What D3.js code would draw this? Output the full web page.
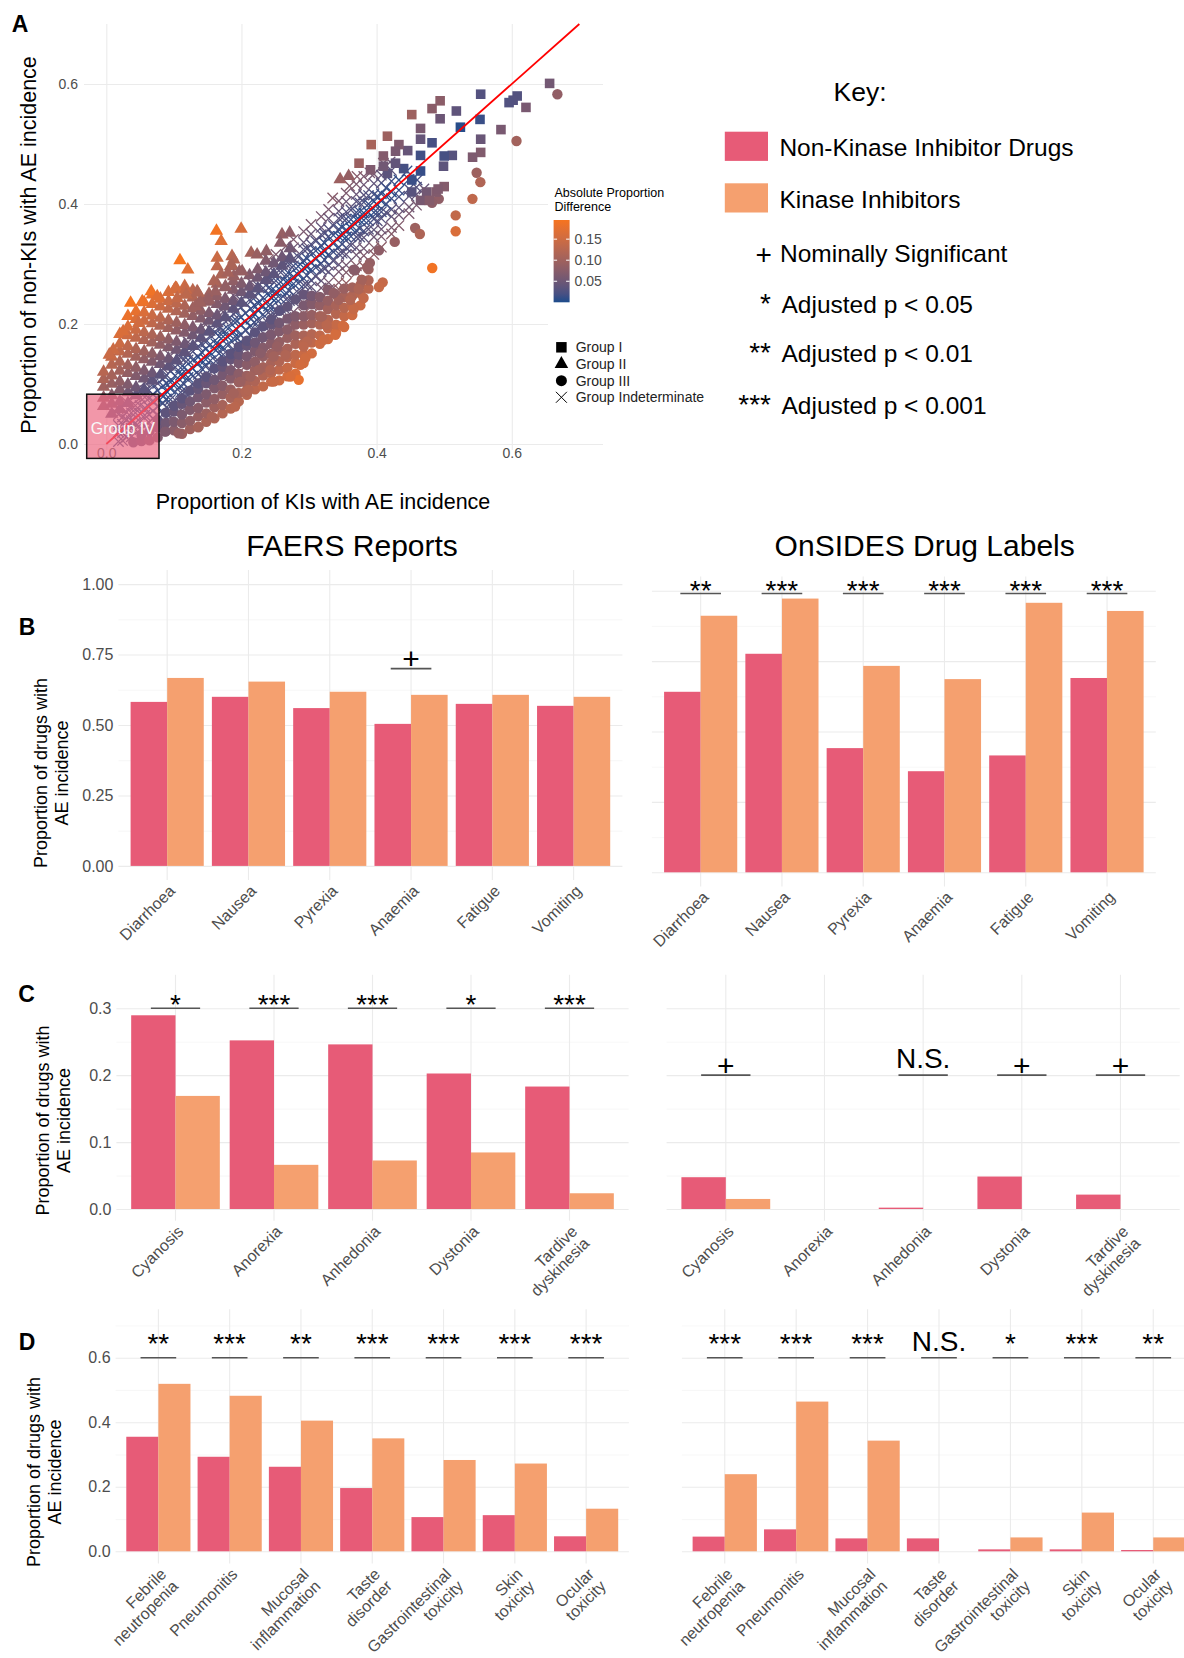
<!DOCTYPE html>
<html><head><meta charset="utf-8">
<script src="https://cdn.jsdelivr.net/npm/d3@7"></script>
<style>
body{margin:0;background:#fff}
svg{display:block;font-family:"Liberation Sans",Arial,Helvetica,sans-serif}
</style>
</head><body>
<svg id="fig" width="1184" height="1658"></svg>
<script>
// ---------- Panel A: AE incidence among KIs (x) vs non-KIs (y) ----------
// Group I (both high) – listed point by point
const groupI = [[0.656,0.601],[0.621,0.561],[0.608,0.58],[0.602,0.573],[0.596,0.569],[0.584,0.524],[0.554,0.583],[0.553,0.541],[0.554,0.508],[0.554,0.486],[0.542,0.478],[0.524,0.528],[0.518,0.555],[0.512,0.481],[0.5,0.48],[0.499,0.463],[0.494,0.572],[0.494,0.542],[0.482,0.559],[0.482,0.502],[0.465,0.526],[0.465,0.508],[0.465,0.481],[0.465,0.455],[0.452,0.549],[0.446,0.489],[0.44,0.459],[0.433,0.499],[0.428,0.488],[0.428,0.468],[0.416,0.513],[0.416,0.451],[0.41,0.48],[0.41,0.463],[0.392,0.499],[0.391,0.457],[0.374,0.468],[0.452,0.44],[0.452,0.42],[0.474,0.42],[0.465,0.406],[0.488,0.42],[0.5,0.429],[0.478,0.406],[0.491,0.425]];
// Group II (higher in non-KIs): scattered points and the dense mass, column by column
const groupIIPoints = [[0.163,0.355],[0.1995,0.3585],[0.17,0.338],[0.109,0.306],[0.1206,0.2906],[0.26,0.349],[0.2714,0.352],[0.2576,0.335],[0.346,0.441],[0.3586,0.4464],[0.2143,0.3185],[0.2232,0.3156],[0.2369,0.3212],[0.186,0.3128],[0.1886,0.3073],[0.164,0.31],[0.164,0.296],[0.1837,0.296],[0.186,0.2978],[0.201,0.2877],[0.1886,0.2794],[0.17,0.2822],[0.159,0.271],[0.1763,0.2627],[0.1615,0.2543],[0.1345,0.2543],[0.149,0.2405],[0.132,0.2293],[0.0665,0.2543],[0.0754,0.246],[0.0532,0.2377],[0.036,0.235],[0.1024,0.26],[0.1172,0.2572],[0.1008,0.2572],[0.1184,0.2488],[0.1358,0.2517],[0.0249,0.1875],[0.0103,0.157],[0.0044,0.1486],[0.048,0.2015],[0.18,0.285],[0.197,0.2877],[0.105,0.2433],[0.1517,0.2405],[0.139,0.235]];
const groupIICols = [[-0.004,[0.063,0.077,0.095,0.108,0.12]],[0.008,[0.05,0.067,0.081,0.1,0.114,0.132,0.145]],[0.02,[0.058,0.071,0.091,0.104,0.122,0.137,0.154,0.167,0.183]],[0.032,[0.068,0.086,0.099,0.118,0.131,0.15,0.163,0.181,0.195,0.213]],[0.044,[0.081,0.094,0.113,0.127,0.145,0.158,0.177,0.19,0.208,0.221]],[0.056,[0.091,0.109,0.122,0.141,0.154,0.173,0.186,0.205,0.219,0.236]],[0.068,[0.105,0.118,0.137,0.15,0.169,0.182,0.201,0.214,0.233,0.249]],[0.08,[0.115,0.133,0.146,0.165,0.178,0.197,0.21,0.229,0.242]],[0.092,[0.129,0.142,0.161,0.174,0.193,0.206,0.225,0.238,0.253]],[0.104,[0.139,0.157,0.17,0.189,0.202,0.221,0.234,0.259]],[0.116,[0.153,0.166,0.185,0.198,0.217,0.23,0.249,0.263]],[0.128,[0.163,0.181,0.194,0.213,0.226,0.244,0.256]],[0.14,[0.177,0.19,0.209,0.222,0.241]],[0.152,[0.187,0.205,0.218,0.237,0.25]],[0.164,[0.201,0.214,0.233,0.246,0.267]],[0.176,[0.211,0.229,0.242,0.261]],[0.188,[0.225,0.238,0.257,0.271]],[0.2,[0.235,0.253,0.267]],[0.212,[0.249,0.262,0.281]],[0.224,[0.259,0.277,0.291]],[0.236,[0.273,0.286,0.305]],[0.248,[0.283,0.301]],[0.26,[0.297,0.311]],[0.272,[0.309,0.326]]];
// Group III (higher in KIs)
const groupIIIPoints = [[0.6675,0.583],[0.607,0.505],[0.548,0.452],[0.5535,0.4364],[0.5418,0.4086],[0.517,0.381],[0.517,0.3546],[0.4823,0.2934],[0.492,0.4086],[0.482,0.402],[0.457,0.36],[0.464,0.35],[0.4268,0.3368],[0.4035,0.3228],[0.39,0.3018],[0.386,0.2945],[0.409,0.2694],[0.4035,0.2617],[0.378,0.274],[0.368,0.2894],[0.3807,0.2433],[0.3734,0.2583],[0.366,0.225],[0.361,0.2405],[0.35,0.197],[0.339,0.182],[0.3216,0.1737],[0.326,0.1987],[0.319,0.2126],[0.3438,0.2405],[0.3364,0.2517],[0.366,0.2906],[0.2946,0.143],[0.287,0.132],[0.2847,0.1069],[0.2724,0.1124],[0.2477,0.104],[0.297,0.1708],[0.292,0.1625],[0.2527,0.1625],[0.265,0.1486],[0.2477,0.1458],[0.228,0.1514],[0.2256,0.1236],[0.2428,0.1236],[0.2133,0.1124],[0.1985,0.104],[0.206,0.0874],[0.1886,0.0847],[0.2103,0.09],[0.1906,0.0623],[0.156,0.0456],[0.1364,0.0289],[0.107,0.0178],[0.087,0.0206]];
const groupIIICols = [[0.04,[0.003]],[0.052,[0.005,0.015]],[0.064,[0.006,0.021]],[0.076,[0.011,0.028,0.039]],[0.088,[0.021,0.035,0.052]],[0.1,[0.023,0.037,0.054,0.064]],[0.112,[0.017,0.035,0.049,0.067,0.076]],[0.124,[0.025,0.039,0.057,0.071,0.089]],[0.136,[0.028,0.046,0.06,0.078,0.092,0.101]],[0.148,[0.037,0.051,0.069,0.083,0.101,0.112]],[0.16,[0.043,0.061,0.075,0.093,0.107,0.126]],[0.172,[0.051,0.065,0.083,0.097,0.115,0.129,0.138]],[0.184,[0.059,0.077,0.091,0.109,0.123,0.141,0.15]],[0.196,[0.071,0.085,0.103,0.117,0.135,0.149,0.162]],[0.208,[0.082,0.1,0.114,0.132,0.146,0.164,0.172]],[0.22,[0.091,0.105,0.123,0.137,0.155,0.169,0.186]],[0.232,[0.096,0.114,0.128,0.146,0.16,0.178,0.196]],[0.244,[0.104,0.118,0.136,0.15,0.168,0.182,0.2,0.208]],[0.256,[0.106,0.124,0.138,0.156,0.17,0.188,0.202,0.222]],[0.268,[0.113,0.127,0.145,0.159,0.177,0.191,0.209,0.229]],[0.28,[0.117,0.135,0.149,0.167,0.181,0.199,0.213,0.241]],[0.292,[0.135,0.149,0.167,0.181,0.199,0.213,0.231,0.249]],[0.304,[0.151,0.169,0.183,0.201,0.215,0.233,0.247]],[0.316,[0.167,0.181,0.199,0.213,0.231,0.245]],[0.328,[0.175,0.193,0.207,0.225,0.239,0.257]],[0.34,[0.185,0.199,0.217,0.231,0.249]],[0.352,[0.195,0.213,0.227,0.245,0.259]],[0.364,[0.215,0.229,0.247,0.261]],[0.376,[0.231,0.251,0.265]],[0.388,[0.259,0.273,0.291]]];
// Group Indeterminate (close to the diagonal)
const groupIndetPoints = [[0.39,0.452],[0.42,0.47],[0.371,0.446],[0.41,0.468],[0.46,0.44],[0.47,0.425],[0.36,0.43],[0.335,0.41],[0.445,0.455]];
const groupIndetCols = [[0.018,[0.004,0.02,0.031,0.049,0.058]],[0.03,[0.011,0.027,0.041,0.053,0.07]],[0.043,[0.007,0.024,0.035,0.052,0.064,0.081]],[0.057,[0.02,0.03,0.048,0.06,0.078,0.089,0.103]],[0.069,[0.026,0.043,0.055,0.072,0.083,0.1,0.11]],[0.084,[0.039,0.05,0.068,0.079,0.097,0.108,0.126]],[0.095,[0.045,0.063,0.074,0.092,0.103,0.121,0.133,0.147]],[0.11,[0.057,0.068,0.086,0.097,0.115,0.127,0.144,0.155]],[0.121,[0.064,0.082,0.093,0.111,0.122,0.14,0.151,0.17]],[0.136,[0.076,0.087,0.105,0.116,0.134,0.145,0.163,0.174,0.192]],[0.147,[0.082,0.1,0.111,0.129,0.141,0.158,0.17,0.188,0.199]],[0.162,[0.098,0.109,0.127,0.138,0.156,0.167,0.185,0.196,0.214]],[0.173,[0.102,0.12,0.131,0.149,0.161,0.179,0.19,0.208,0.22,0.235]],[0.188,[0.117,0.128,0.146,0.158,0.176,0.187,0.205,0.217,0.231,0.248]],[0.199,[0.122,0.14,0.152,0.17,0.181,0.199,0.211,0.228,0.24,0.258]],[0.214,[0.138,0.149,0.167,0.179,0.197,0.208,0.226,0.238,0.255,0.27]],[0.225,[0.145,0.163,0.175,0.193,0.204,0.222,0.234,0.251,0.263,0.282]],[0.24,[0.16,0.171,0.189,0.201,0.219,0.23,0.248,0.26,0.277,0.289,0.307]],[0.251,[0.165,0.183,0.195,0.213,0.224,0.242,0.254,0.272,0.284,0.301,0.316]],[0.266,[0.182,0.193,0.211,0.223,0.241,0.252,0.27,0.282,0.3,0.312,0.33]],[0.277,[0.19,0.208,0.22,0.238,0.249,0.267,0.279,0.297,0.309,0.327,0.341]],[0.292,[0.206,0.217,0.235,0.247,0.265,0.276,0.294,0.306,0.324,0.336,0.354]],[0.303,[0.214,0.232,0.244,0.262,0.273,0.291,0.303,0.321,0.333,0.35,0.366]],[0.318,[0.231,0.242,0.26,0.272,0.29,0.301,0.319,0.331,0.349,0.361,0.379]],[0.329,[0.239,0.257,0.269,0.287,0.298,0.316,0.328,0.346,0.358,0.376,0.391]],[0.344,[0.258,0.269,0.287,0.299,0.317,0.328,0.346,0.358,0.376,0.388,0.405]],[0.355,[0.268,0.286,0.298,0.316,0.327,0.345,0.357,0.375,0.387,0.404,0.418]],[0.37,[0.286,0.297,0.315,0.327,0.345,0.356,0.374,0.386,0.404,0.416,0.433]],[0.381,[0.296,0.314,0.326,0.344,0.355,0.373,0.385,0.403,0.415,0.432,0.446]],[0.396,[0.316,0.327,0.345,0.357,0.375,0.386,0.404,0.416,0.434,0.45]],[0.407,[0.328,0.346,0.358,0.376,0.387,0.405,0.417,0.435,0.448]],[0.422,[0.35,0.361,0.379,0.391,0.409,0.42,0.438,0.456]],[0.433,[0.364,0.382,0.394,0.412,0.423,0.44]],[0.448,[0.384,0.395,0.413,0.425,0.441]],[0.459,[0.398,0.416,0.428]]];
// the tight core of indeterminate AEs hugging the diagonal
const groupIndetCore = [[0.024,[0.006,0.019,0.033,0.045]],[0.037,[0.012,0.026,0.039,0.052,0.064]],[0.05,[0.024,0.037,0.051,0.064,0.077]],[0.063,[0.036,0.049,0.062,0.076,0.089]],[0.076,[0.049,0.062,0.075,0.089,0.101]],[0.089,[0.061,0.075,0.088,0.101,0.115]],[0.102,[0.073,0.087,0.1,0.114,0.128]],[0.115,[0.086,0.1,0.113,0.127,0.141]],[0.128,[0.099,0.113,0.126,0.14,0.154]],[0.141,[0.112,0.126,0.139,0.153,0.167]],[0.154,[0.124,0.139,0.152,0.166,0.181]],[0.167,[0.137,0.151,0.165,0.179,0.194]],[0.18,[0.149,0.164,0.178,0.192,0.207]],[0.193,[0.162,0.177,0.191,0.205,0.221]],[0.206,[0.174,0.19,0.204,0.218,0.234]],[0.219,[0.187,0.203,0.217,0.231,0.247]],[0.232,[0.2,0.216,0.23,0.244,0.26]],[0.245,[0.213,0.229,0.243,0.257,0.273]],[0.258,[0.226,0.242,0.256,0.27,0.286]],[0.271,[0.239,0.255,0.269,0.283,0.299]],[0.284,[0.252,0.268,0.282,0.296,0.312]],[0.297,[0.265,0.281,0.295,0.309,0.325]],[0.31,[0.279,0.294,0.308,0.322,0.338]],[0.323,[0.292,0.307,0.321,0.335,0.351]],[0.336,[0.305,0.32,0.334,0.348,0.364]],[0.349,[0.318,0.333,0.347,0.361,0.377]],[0.362,[0.331,0.346,0.36,0.374,0.39]],[0.375,[0.345,0.359,0.373,0.387,0.402]],[0.388,[0.358,0.372,0.386,0.4,0.414]],[0.401,[0.372,0.386,0.399,0.413]],[0.414,[0.386,0.4,0.413,0.427]]];
const scatterTicks = [0, 0.2, 0.4, 0.6];
const diffTicks = [0.05, 0.10, 0.15];
const shapeLegend = ["Group I", "Group II", "Group III", "Group Indeterminate"];

// ---------- Panel B: most common AEs ----------
const catsB = ["Diarrhoea","Nausea","Pyrexia","Anaemia","Fatigue","Vomiting"];
const faersB_nonKI = [0.582,0.600,0.560,0.504,0.575,0.568];
const faersB_KI    = [0.667,0.654,0.618,0.607,0.607,0.600];
const faersB_sig   = ["","","","+","",""];
const onsidesB_nonKI = [0.641,0.776,0.441,0.359,0.415,0.690];
const onsidesB_KI    = [0.911,0.972,0.733,0.686,0.957,0.928];
const onsidesB_sig   = ["**","***","***","***","***","***"];
const ticksB = [0, 0.25, 0.5, 0.75, 1.0];

// ---------- Panel C: AEs more frequent in non-KIs ----------
const catsC = ["Cyanosis","Anorexia","Anhedonia","Dystonia","Tardive\ndyskinesia"];
const faersC_nonKI = [0.2895,0.252,0.246,0.2025,0.183];
const faersC_KI    = [0.169,0.066,0.0725,0.0845,0.0235];
const faersC_sig   = ["*","***","***","*","***"];
const onsidesC_nonKI = [0.0475,0,0.002,0.0485,0.0215];
const onsidesC_KI    = [0.015,0,0,0,0];
const onsidesC_sig   = ["+","","N.S.","+","+"];
const ticksC = [0, 0.1, 0.2, 0.3];

// ---------- Panel D: AEs more frequent in KIs ----------
const catsD = ["Febrile\nneutropenia","Pneumonitis","Mucosal\ninflammation","Taste\ndisorder","Gastrointestinal\ntoxicity","Skin\ntoxicity","Ocular\ntoxicity"];
const faersD_nonKI = [0.355,0.293,0.262,0.196,0.106,0.112,0.0465];
const faersD_KI    = [0.519,0.482,0.405,0.350,0.283,0.272,0.132];
const faersD_sig   = ["**","***","**","***","***","***","***"];
const onsidesD_nonKI = [0.0455,0.068,0.040,0.040,0.006,0.006,0.004];
const onsidesD_KI    = [0.239,0.464,0.343,0,0.043,0.120,0.043];
const onsidesD_sig   = ["***","***","***","N.S.","*","***","**"];
const ticksD = [0, 0.2, 0.4, 0.6];

// ---------- Key ----------
const keyDrugs = ["Non-Kinase Inhibitor Drugs","Kinase Inhibitors"];
const keySymbols = ["+","*","**","***"];
const keyTexts = ["Nominally Significant","Adjusted p < 0.05","Adjusted p < 0.01","Adjusted p < 0.001"];

// ================= drawing =================
const FONT = '"Liberation Sans", Arial, Helvetica, sans-serif';
const PINK = "#e75b77", ORANGE = "#f5a06f";
const GRID = "#ebebeb", GRID_MINOR = "#f4f4f4", TICK_TXT = "#4d4d4d";
const svg = d3.select("#fig");
svg.append("rect").attr("width",1184).attr("height",1658).attr("fill","#fff");

const flat = cols => cols.flatMap(([x, ys]) => ys.map(y => [x, y]));

// ----- Panel A -----
const A = {left:84, right:603, top:24, bottom:450};
const xA = d3.scaleLinear().domain([-0.033, 0.735]).range([A.left, A.right]);
const yA = d3.scaleLinear().domain([-0.01, 0.70]).range([A.bottom, A.top]);
const diffColor = d3.scaleLinear().domain([0, 0.195]).range(["#1c4c8c", "#f6741f"])
  .interpolate(d3.interpolateLab).clamp(true);
const col = d => diffColor(Math.abs(d[1] - d[0]));

const gA = svg.append("g");
gA.append("g").attr("transform", `translate(0,${A.bottom})`)
  .call(d3.axisBottom(xA).tickValues(scatterTicks).tickSize(-(A.bottom - A.top)).tickPadding(-1.5).tickFormat(d3.format(".1f")))
  .call(a => { a.select(".domain").remove();
    a.selectAll("line").attr("stroke", GRID).attr("stroke-width", 1.1);
    a.selectAll("text").attr("fill", TICK_TXT).attr("font-size", 14).attr("font-family", FONT); });
gA.append("g").attr("transform", `translate(${A.left},0)`)
  .call(d3.axisLeft(yA).tickValues(scatterTicks).tickSize(-(A.right - A.left)).tickPadding(6).tickFormat(d3.format(".1f")))
  .call(a => { a.select(".domain").remove();
    a.selectAll("line").attr("stroke", GRID).attr("stroke-width", 1.1);
    a.selectAll("text").attr("fill", TICK_TXT).attr("font-size", 14).attr("font-family", FONT); });

const pts = gA.append("g");
const crossPath = d3.symbol(d3.symbolTimes, 72)();
pts.selectAll("path.ind").data(flat(groupIndetCols).concat(flat(groupIndetCore), groupIndetPoints)).join("path")
  .attr("class","ind").attr("d", crossPath)
  .attr("transform", d => `translate(${xA(d[0])},${yA(d[1])})`)
  .attr("fill","none").attr("stroke", col).attr("stroke-width", 1.3);
const triPath = d3.symbol(d3.symbolTriangle, 78)();
pts.selectAll("path.g2").data(flat(groupIICols).concat(groupIIPoints)).join("path")
  .attr("class","g2").attr("d", triPath)
  .attr("transform", d => `translate(${xA(d[0])},${yA(d[1])})`).attr("fill", col);
pts.selectAll("circle.g3").data(flat(groupIIICols).concat(groupIIIPoints)).join("circle")
  .attr("class","g3").attr("cx", d => xA(d[0])).attr("cy", d => yA(d[1])).attr("r", 5.2).attr("fill", col);
const sqPath = d3.symbol(d3.symbolSquare, 92)();
pts.selectAll("path.g1").data(groupI).join("path")
  .attr("class","g1").attr("d", sqPath)
  .attr("transform", d => `translate(${xA(d[0])},${yA(d[1])})`).attr("fill", col);

// identity line
gA.append("line").attr("x1", xA(0)).attr("y1", yA(0)).attr("x2", xA(0.70)).attr("y2", yA(0.70))
  .attr("stroke", "#ff0000").attr("stroke-width", 1.8);

// Group IV region
gA.append("rect").attr("x", xA(-0.029)).attr("y", yA(0.083))
  .attr("width", xA(0.078) - xA(-0.029)).attr("height", yA(-0.024) - yA(0.083))
  .attr("fill", "#ec6b85").attr("fill-opacity", 0.7).attr("stroke", "#111").attr("stroke-width", 1.5);
gA.append("text").attr("x", (xA(-0.029) + xA(0.078)) / 2).attr("y", 434).attr("text-anchor","middle")
  .attr("font-size", 16).attr("fill", "#f8f8f8").text("Group IV");

// axis titles
svg.append("text").attr("x", 323).attr("y", 509).attr("text-anchor","middle").attr("font-size", 21.5).text("Proportion of KIs with AE incidence");
svg.append("text").attr("transform","translate(35.5,245) rotate(-90)").attr("text-anchor","middle").attr("font-size", 21.5).text("Proportion of non-KIs with AE incidence");
svg.append("text").attr("x", 20).attr("y", 32).attr("text-anchor","middle").attr("font-size", 23).attr("font-weight","bold").text("A");

// legends of panel A
svg.append("rect").attr("x", 548).attr("y", 172).attr("width", 150).attr("height", 236).attr("fill", "#fff");
svg.append("text").attr("x", 554.4).attr("y", 196.7).attr("font-size", 12.5).text("Absolute Proportion");
svg.append("text").attr("x", 554.4).attr("y", 210.7).attr("font-size", 12.5).text("Difference");
const cb = {x:553.6, w:16, top:220, bottom:302.3};
const cbScale = d3.scaleLinear().domain([0, 0.1955]).range([cb.bottom, cb.top]);
const grad = svg.append("defs").append("linearGradient").attr("id","cbGrad").attr("x1",0).attr("x2",0).attr("y1",1).attr("y2",0);
d3.range(0, 1.0001, 0.1).forEach(t => grad.append("stop").attr("offset", t).attr("stop-color", diffColor(t * 0.1955)));
svg.append("rect").attr("x", cb.x).attr("y", cb.top).attr("width", cb.w).attr("height", cb.bottom - cb.top).attr("fill","url(#cbGrad)");
svg.append("g").attr("transform", `translate(${cb.x + cb.w},0)`)
  .call(d3.axisRight(cbScale).tickValues(diffTicks).tickSize(0).tickPadding(5).tickFormat(d3.format(".2f")))
  .call(a => { a.select(".domain").remove();
    a.selectAll("text").attr("fill", TICK_TXT).attr("font-size", 14).attr("font-family", FONT); });
diffTicks.forEach(v => {
  [[cb.x, cb.x + 3.5], [cb.x + cb.w - 3.5, cb.x + cb.w]].forEach(([a, b]) =>
    svg.append("line").attr("x1", a).attr("x2", b).attr("y1", cbScale(v)).attr("y2", cbScale(v)).attr("stroke","#fff").attr("stroke-width",1));
});
const legSyms = [d3.symbol(d3.symbolSquare, 110)(), d3.symbol(d3.symbolTriangle, 80)(), d3.symbol(d3.symbolCircle, 95)(), d3.symbol(d3.symbolTimes, 80)()];
const legY = d3.scalePoint().domain(shapeLegend).range([347.3, 397.3]);
shapeLegend.forEach((s, i) => {
  const p = svg.append("path").attr("d", legSyms[i]).attr("transform", `translate(561.4,${legY(s)})`);
  if (i === 3) p.attr("fill","none").attr("stroke","#000").attr("stroke-width",1); else p.attr("fill","#000");
  svg.append("text").attr("x", 575.7).attr("y", legY(s) + 5).attr("font-size", 14).attr("fill","#222").text(s);
});

// ----- Key -----
svg.append("text").attr("x", 860).attr("y", 101).attr("text-anchor","middle").attr("font-size", 26.5).text("Key:");
[[PINK, 131.7, 156], [ORANGE, 183.3, 207.7]].forEach(([c, y, base], i) => {
  svg.append("rect").attr("x", 724.8).attr("y", y).attr("width", 43.2).attr("height", 29.2).attr("fill", c);
  svg.append("text").attr("x", 779.4).attr("y", base).attr("font-size", 24.5).text(keyDrugs[i]);
});
const keyBase = [262.3, 313.3, 361.7, 414.3];
keySymbols.forEach((s, i) => {
  if (s === "+") svg.append("text").attr("x", 763.8).attr("y", 264).attr("text-anchor","middle").attr("font-size", 28).text(s);
  else svg.append("text").attr("x", 771).attr("y", keyBase[i]).attr("text-anchor","end").attr("font-size", 28).text(s);
  svg.append("text").attr("x", i === 0 ? 780 : 781.5).attr("y", keyBase[i]).attr("font-size", 24.5).text(keyTexts[i]);
});

// ----- bar panels -----
function barPanel(o) {
  const g = svg.append("g");
  const x = d3.scaleBand().domain(o.cats).range([o.left, o.right]).paddingInner(0.1).paddingOuter(0.15);
  const sub = d3.scaleBand().domain(["nonKI","KI"]).range([0, x.bandwidth()]);
  const y = d3.scaleLinear().domain(o.yDomain).range([o.bottom, o.top]);
  const W = o.right - o.left;
  g.append("g").attr("transform", `translate(${o.left},0)`)
    .call(d3.axisLeft(y).tickValues(o.minor).tickSize(-W).tickFormat(""))
    .call(a => { a.select(".domain").remove(); a.selectAll("line").attr("stroke", GRID_MINOR).attr("stroke-width", 0.7); });
  g.append("g").attr("transform", `translate(${o.left},0)`)
    .call(d3.axisLeft(y).tickValues(o.major).tickSize(-W).tickPadding(5).tickFormat(o.showY ? d3.format(o.fmt) : ""))
    .call(a => { a.select(".domain").remove();
      a.selectAll("line").attr("stroke", GRID).attr("stroke-width", 1.1);
      a.selectAll("text").attr("fill", TICK_TXT).attr("font-size", 16).attr("font-family", FONT); });
  g.append("g").attr("transform", `translate(0,${o.bottom})`)
    .call(d3.axisBottom(x).tickSize(-(o.bottom - o.top)).tickFormat(""))
    .call(a => { a.select(".domain").remove(); a.selectAll("line").attr("stroke", GRID).attr("stroke-width", 1.1); });

  const rows = o.cats.map((c, i) => ({c, nonKI: o.nonKI[i], KI: o.ki[i], sig: o.sig[i]}));
  g.append("g").selectAll("g").data(rows).join("g").attr("transform", d => `translate(${x(d.c)},0)`)
    .selectAll("rect").data(d => [{k:"nonKI", v:d.nonKI}, {k:"KI", v:d.KI}]).join("rect")
    .attr("x", d => sub(d.k)).attr("width", sub.bandwidth())
    .attr("y", d => y(d.v)).attr("height", d => y(0) - y(d.v))
    .attr("fill", d => d.k === "nonKI" ? PINK : ORANGE);

  rows.forEach(d => {
    const cx = x(d.c) + x.bandwidth() / 2;
    const t = g.append("text").attr("transform", `translate(${cx},${o.bottom + 3}) rotate(-45)`)
      .attr("text-anchor","end").attr("font-size", 16).attr("fill", TICK_TXT);
    d.c.split("\n").forEach((line, i) => t.append("tspan").attr("x", 0).attr("dy", i === 0 ? "0.78em" : "1.05em").text(line));
    if (!d.sig) return;
    const ly = y(o.sigY), half = x.step() * 0.25;
    g.append("line").attr("x1", cx - half).attr("x2", cx + half).attr("y1", ly).attr("y2", ly)
      .attr("stroke", "#555").attr("stroke-width", 1.6);
    const lab = g.append("text").attr("x", cx).attr("text-anchor","middle").text(d.sig);
    if (d.sig === "+") lab.attr("font-size", 30).attr("y", ly + 0.6);
    else if (d.sig === "N.S.") lab.attr("font-size", 28).attr("y", ly - 7);
    else lab.attr("font-size", 28).attr("y", ly - o.starRise + 16);
  });
}

svg.append("text").attr("x", 352).attr("y", 556).attr("text-anchor","middle").attr("font-size", 30).text("FAERS Reports");
svg.append("text").attr("x", 924.7).attr("y", 556).attr("text-anchor","middle").attr("font-size", 30).text("OnSIDES Drug Labels");

const minorB = [0.125, 0.375, 0.625, 0.875];
const minorC = [0.05, 0.15, 0.25];
const minorD = [0.1, 0.3, 0.5, 0.7];
barPanel({cats:catsB, nonKI:faersB_nonKI, ki:faersB_KI, sig:faersB_sig, left:118.4, right:622.4, top:570, bottom:880,
  yDomain:[-0.05,1.05], major:ticksB, minor:minorB, showY:true, fmt:".2f", sigY:0.70, starRise:10});
barPanel({cats:catsB, nonKI:onsidesB_nonKI, ki:onsidesB_KI, sig:onsidesB_sig, left:651.9, right:1155.8, top:576.6, bottom:886.4,
  yDomain:[-0.05,1.05], major:ticksB, minor:minorB, showY:false, sigY:0.99, starRise:9.5});
barPanel({cats:catsC, nonKI:faersC_nonKI, ki:faersC_KI, sig:faersC_sig, left:116.4, right:628.6, top:974.8, bottom:1220.7,
  yDomain:[-0.0175,0.35], major:ticksC, minor:minorC, showY:true, fmt:".1f", sigY:0.30, starRise:10});
barPanel({cats:catsC, nonKI:onsidesC_nonKI, ki:onsidesC_KI, sig:onsidesC_sig, left:666.6, right:1179.7, top:974.8, bottom:1220.7,
  yDomain:[-0.0175,0.35], major:ticksC, minor:minorC, showY:false, sigY:0.20, starRise:10});
barPanel({cats:catsD, nonKI:faersD_nonKI, ki:faersD_KI, sig:faersD_sig, left:115.6, right:628.9, top:1309.3, bottom:1563.4,
  yDomain:[-0.0375,0.75], major:ticksD, minor:minorD, showY:true, fmt:".1f", sigY:0.60, starRise:20.5});
barPanel({cats:catsD, nonKI:onsidesD_nonKI, ki:onsidesD_KI, sig:onsidesD_sig, left:681.9, right:1196.1, top:1309.3, bottom:1563.4,
  yDomain:[-0.0375,0.75], major:ticksD, minor:minorD, showY:false, sigY:0.60, starRise:20.5});

// y titles and panel letters for B–D
[[46.5, 67.6, 773], [48.6, 69.7, 1120.5], [40, 61.3, 1472]].forEach(([b1, b2, cy]) => {
  svg.append("text").attr("transform", `translate(${b1},${cy}) rotate(-90)`).attr("text-anchor","middle").attr("font-size", 18).text("Proportion of drugs with");
  svg.append("text").attr("transform", `translate(${b2},${cy}) rotate(-90)`).attr("text-anchor","middle").attr("font-size", 18).text("AE incidence");
});
[["B", 27, 635], ["C", 26.5, 1001.7], ["D", 27, 1350]].forEach(([l, x, y]) =>
  svg.append("text").attr("x", x).attr("y", y).attr("text-anchor","middle").attr("font-size", 23).attr("font-weight","bold").text(l));
</script>
</body></html>
